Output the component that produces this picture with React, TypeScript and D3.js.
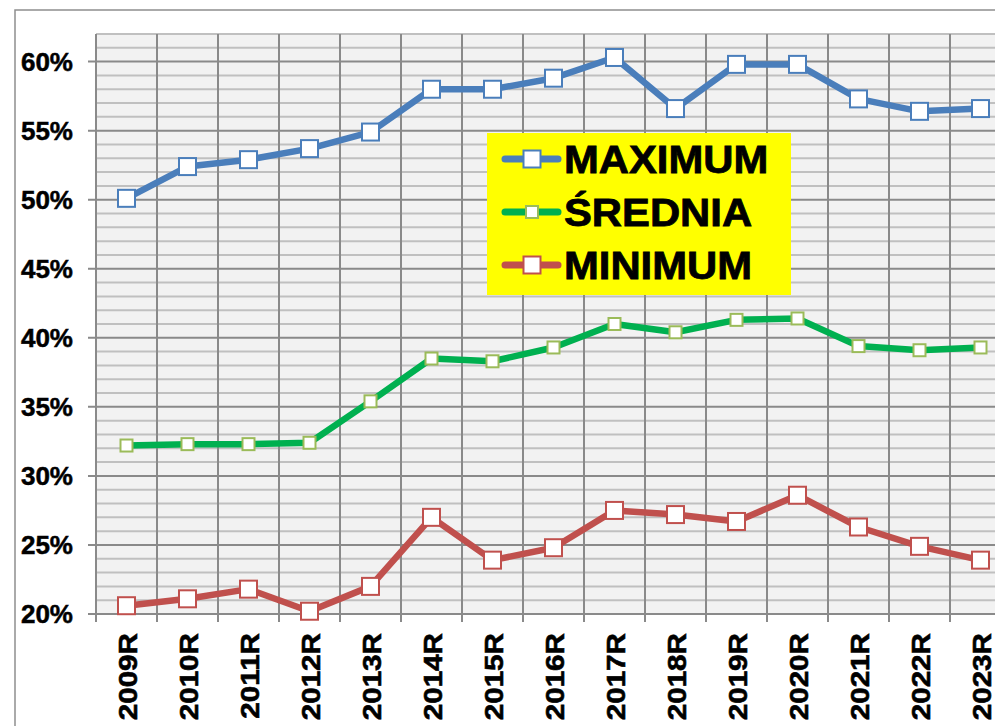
import { useEffect, useRef } from "react";
import * as d3 from "d3";

// categories + series
const years = ["2009R", "2010R", "2011R", "2012R", "2013R", "2014R", "2015R", "2016R", "2017R", "2018R", "2019R", "2020R", "2021R", "2022R", "2023R"];
const maximum = [50.1, 52.4, 52.9, 53.7, 54.9, 58.0, 58.0, 58.8, 60.3, 56.6, 59.8, 59.8, 57.3, 56.4, 56.6];
const srednia = [32.2, 32.3, 32.3, 32.4, 35.4, 38.5, 38.3, 39.3, 41.0, 40.4, 41.3, 41.4, 39.4, 39.1, 39.3];
const minimum = [20.6, 21.1, 21.8, 20.2, 22.0, 27.0, 23.9, 24.8, 27.5, 27.2, 26.7, 28.6, 26.3, 24.9, 23.9];
const yTicks = [20, 25, 30, 35, 40, 45, 50, 55, 60];
const legendLabels = ["MAXIMUM", "ŚREDNIA", "MINIMUM"];

const W = 995;
const H = 726;
const FONT = "'Liberation Sans', Arial, sans-serif";

export default function App() {
  const ref = useRef<SVGSVGElement>(null);

  useEffect(() => {
    if (!ref.current) return;
    const svg = d3.select(ref.current);
    svg.selectAll("*").remove();

    const left = 96, top = 34, bottom = 614;
    const band = 61;
    const right = left + band * years.length;

    const x = d3.scaleBand().domain(years).range([left, right]);
    const y = d3.scaleLinear().domain([20, 62]).range([bottom, top]);

    // outer chart border (cropped on right/bottom)
    svg.append("rect")
      .attr("x", 15).attr("y", 10)
      .attr("width", W + 20).attr("height", H + 20)
      .attr("fill", "#fff").attr("stroke", "#8e8e8e").attr("stroke-width", 1.5);

    // plot area
    svg.append("rect")
      .attr("x", left).attr("y", y(62))
      .attr("width", right - left).attr("height", bottom - y(62))
      .attr("fill", "#f2f2f2");

    // minor horizontal grid
    svg.append("g").selectAll("line")
      .data(d3.range(21, 63).filter((v) => v % 5 !== 0))
      .join("line")
      .attr("x1", left).attr("x2", right)
      .attr("y1", (d) => y(d)).attr("y2", (d) => y(d))
      .attr("stroke", "#c0c0c0").attr("stroke-width", 2);

    // major horizontal grid + ticks
    svg.append("g").selectAll("line")
      .data(yTicks)
      .join("line")
      .attr("x1", left - 8).attr("x2", right)
      .attr("y1", (d) => y(d)).attr("y2", (d) => y(d))
      .attr("stroke", "#8a8a8a").attr("stroke-width", 2);

    // vertical grid + ticks
    svg.append("g").selectAll("line")
      .data(d3.range(years.length + 1))
      .join("line")
      .attr("x1", (i) => left + i * x.step()).attr("x2", (i) => left + i * x.step())
      .attr("y1", y(62)).attr("y2", bottom + 8)
      .attr("stroke", "#8a8a8a").attr("stroke-width", 2);

    // y labels
    svg.append("g").selectAll("text")
      .data(yTicks)
      .join("text")
      .attr("x", 73).attr("y", (d) => y(d))
      .attr("dy", "0.36em")
      .attr("text-anchor", "end")
      .attr("stroke", "#000").attr("stroke-width", 0.5)
      .style("font-family", FONT).style("font-weight", "bold").style("font-size", "26px")
      .text((d) => d + "%");

    // x labels (rotated, a bit stretched like the original)
    svg.append("g").selectAll("text")
      .data(years)
      .join("text")
      .attr("transform", (d) => `translate(${x(d)! + x.bandwidth() / 2 + 1},633) rotate(-90) scale(1.14,1)`)
      .attr("dy", "0.36em")
      .attr("text-anchor", "end")
      .attr("stroke", "#000").attr("stroke-width", 0.6)
      .style("font-family", FONT).style("font-weight", "bold").style("font-size", "26px")
      .text((d) => d);

    const series = [
      { values: maximum, color: "#4a7ebb", mark: "#4a7ebb", size: 17 },
      { values: srednia, color: "#00b050", mark: "#9bbb59", size: 12 },
      { values: minimum, color: "#c0504d", mark: "#c0504d", size: 17 },
    ];

    const cx = (i: number) => x(years[i])! + x.bandwidth() / 2;
    const line = d3.line<number>().x((_, i) => cx(i)).y((d) => y(d));

    series.forEach((s) => {
      svg.append("path")
        .datum(s.values)
        .attr("d", line)
        .attr("fill", "none")
        .attr("stroke", s.color)
        .attr("stroke-width", 6.5)
        .attr("stroke-linejoin", "round");

      svg.append("g").selectAll("rect")
        .data(s.values)
        .join("rect")
        .attr("x", (_, i) => cx(i) - s.size / 2)
        .attr("y", (d) => y(d) - s.size / 2)
        .attr("width", s.size).attr("height", s.size)
        .attr("fill", "#fff")
        .attr("stroke", s.mark).attr("stroke-width", 2);
    });

    // legend
    const lg = svg.append("g");
    lg.append("rect")
      .attr("x", 487).attr("y", 133).attr("width", 304).attr("height", 162)
      .attr("fill", "#ffff00");

    series.forEach((s, i) => {
      const cy = 159 + i * 53;
      lg.append("line")
        .attr("x1", 505).attr("x2", 558).attr("y1", cy).attr("y2", cy)
        .attr("stroke", s.color).attr("stroke-width", 7).attr("stroke-linecap", "round");
      lg.append("rect")
        .attr("x", 532 - s.size / 2).attr("y", cy - s.size / 2)
        .attr("width", s.size).attr("height", s.size)
        .attr("fill", "#fff").attr("stroke", s.mark).attr("stroke-width", 2);
      lg.append("text")
        .attr("transform", `translate(564,${cy}) scale(1.1,1)`)
        .attr("dy", "0.36em")
        .attr("stroke", "#000").attr("stroke-width", 0.8)
        .style("font-family", FONT).style("font-weight", "bold").style("font-size", "38px")
        .text(legendLabels[i]);
    });
  }, []);

  return (
    <svg
      ref={ref}
      width={W}
      height={H}
      style={{ position: "absolute", left: 0, top: 0, background: "#fff" }}
    />
  );
}
